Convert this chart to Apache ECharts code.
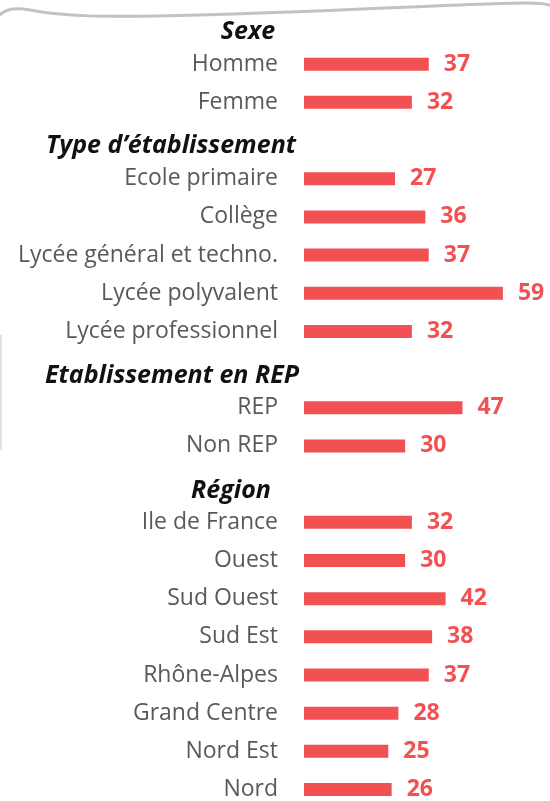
<!DOCTYPE html>
<html>
<head>
<meta charset="utf-8">
<script src="https://cdn.jsdelivr.net/npm/echarts@6/dist/echarts.min.js"></script>
<style>
  html, body { margin: 0; padding: 0; background: #fff; }
  #chart { width: 550px; height: 801px; }
</style>
</head>
<body>
<div id="chart"></div>
<script>
// rows, top to bottom; title rows carry no value
var categories = [
  'Sexe', 'Homme', 'Femme',
  'Type d\u2019établissement', 'Ecole primaire', 'Collège', 'Lycée général et techno.', 'Lycée polyvalent', 'Lycée professionnel',
  'Etablissement en REP', 'REP', 'Non REP',
  'Région', 'Ile de France', 'Ouest', 'Sud Ouest', 'Sud Est', 'Rhône-Alpes', 'Grand Centre', 'Nord Est', 'Nord'
];
var values = [
  null, 37, 32,
  null, 27, 36, 37, 59, 32,
  null, 47, 30,
  null, 32, 30, 42, 38, 37, 28, 25, 26
];
var groupTitles = ['Sexe', 'Type d\u2019établissement', 'Etablissement en REP', 'Région'];
var titleX = [248, 171, 172, 231];
var titleDy = [6, 5, 6, 7];

var red = '#F15152';
var font = '"Open Sans", sans-serif';

// wavy frame edge at the top
var border = { stroke: '#c2c2c2', lineWidth: 3, fill: null };
var frame = [
  { type: 'bezierCurve', silent: true, style: border,
    shape: { x1: -2, y1: 16, cpx1: 6, cpy1: 9, cpx2: 14, cpy2: 7, x2: 30, y2: 10 } },
  { type: 'bezierCurve', silent: true, style: border,
    shape: { x1: 30, y1: 10, cpx1: 60, cpy1: 16, cpx2: 100, cpy2: 18, x2: 200, y2: 15 } },
  { type: 'bezierCurve', silent: true, style: border,
    shape: { x1: 200, y1: 15, cpx1: 320, cpy1: 12, cpx2: 450, cpy2: 4, x2: 525, y2: 3 } },
  { type: 'bezierCurve', silent: true, style: border,
    shape: { x1: 525, y1: 3, cpx1: 540, cpy1: 3, cpx2: 548, cpy2: 4, x2: 552, y2: 6 } },
  { type: 'line', silent: true,
    shape: { x1: 1, y1: 335, x2: 1, y2: 450 },
    style: { stroke: '#e2e2e2', lineWidth: 2 } }
];

var chartDom = document.getElementById('chart');
var myChart = echarts.init(chartDom);
var option = {
  animation: false,
  grid: { left: 304, right: 10, top: 26, bottom: 10 },
  xAxis: {
    type: 'value',
    min: 0,
    max: 70,
    show: false
  },
  yAxis: {
    type: 'category',
    inverse: true,
    boundaryGap: false,
    data: categories,
    axisLine: { show: false },
    axisTick: { show: false },
    splitLine: { show: false },
    axisLabel: {
      margin: 26,
      fontFamily: font,
      fontSize: 23,
      color: '#595959',
      formatter: function (v) {
        return groupTitles.indexOf(v) >= 0 ? '' : v;
      }
    }
  },
  series: [{
    type: 'bar',
    data: values,
    barWidth: 13,
    itemStyle: { color: red },
    label: {
      show: true,
      position: 'right',
      distance: 15,
      color: red,
      fontFamily: font,
      fontWeight: 'bold',
      fontSize: 23
    }
  }]
};
myChart.setOption(option);

// group headings placed on their own rows
var titles = groupTitles.map(function (t, i) {
  var y = myChart.convertToPixel({ yAxisIndex: 0 }, t);
  return {
    type: 'text',
    x: titleX[i],
    y: y + titleDy[i],
    style: {
      text: t,
      align: 'center',
      verticalAlign: 'middle',
      fontFamily: font,
      fontWeight: 'bold',
      fontStyle: 'italic',
      fontSize: 25,
      fill: '#111'
    }
  };
});
myChart.setOption({ graphic: frame.concat(titles) });
</script>
</body>
</html>
